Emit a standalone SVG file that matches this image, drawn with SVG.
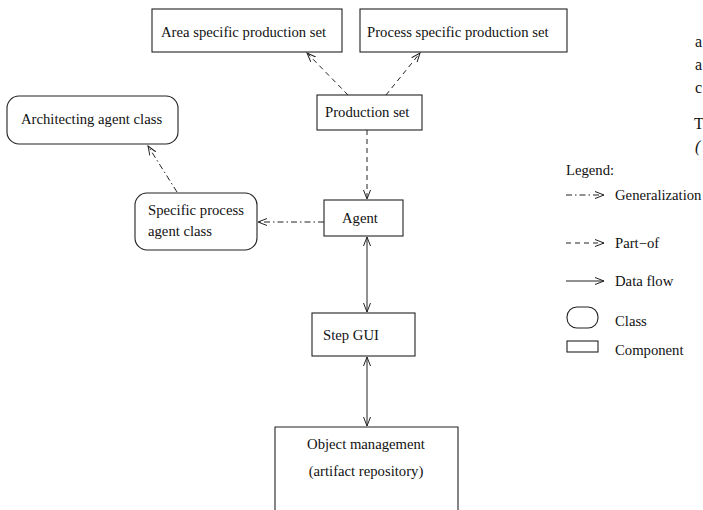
<svg xmlns="http://www.w3.org/2000/svg" width="703" height="510" viewBox="0 0 703 510">
<style>
  text { font-family: "Liberation Serif", "Times New Roman", serif; font-size: 14.7px; fill: #111; }
  .box { fill: #fff; stroke: #222; stroke-width: 1.1; }
  .edge { fill: none; stroke: #222; stroke-width: 1; }
  .partof { stroke-dasharray: 5 4; }
  .gen { stroke-dasharray: 6 3 1.5 3; }
  .page { font-size: 16px; }
</style>
<defs>
  <marker id="ah" viewBox="0 0 10 8" refX="9" refY="4" markerWidth="10" markerHeight="8" markerUnits="userSpaceOnUse" orient="auto-start-reverse">
    <path d="M0,0.5 L9,4 L0,7.5" fill="none" stroke="#222" stroke-width="1"/>
  </marker>
</defs>

<g id="connectors">
  <line class="edge partof" x1="348" y1="95" x2="307" y2="53" marker-end="url(#ah)"/>
  <line class="edge partof" x1="386" y1="95" x2="420" y2="53" marker-end="url(#ah)"/>
  <line class="edge partof" x1="367" y1="130" x2="367" y2="199" marker-end="url(#ah)"/>
  <line class="edge gen" x1="324" y1="222" x2="258" y2="222" marker-end="url(#ah)"/>
  <line class="edge gen" x1="177" y1="192" x2="148" y2="146" marker-end="url(#ah)"/>
  <line class="edge" x1="367" y1="237" x2="367" y2="312" marker-start="url(#ah)" marker-end="url(#ah)"/>
  <line class="edge" x1="367" y1="357" x2="367" y2="426" marker-start="url(#ah)" marker-end="url(#ah)"/>
</g>

<g id="area-set">
  <rect class="box" x="152" y="9" width="190" height="43"/>
  <text x="161" y="37">Area specific production set</text>
</g>
<g id="process-set">
  <rect class="box" x="360" y="9" width="207" height="43"/>
  <text x="367" y="37">Process specific production set</text>
</g>
<g id="production-set">
  <rect class="box" x="317" y="95" width="105" height="35"/>
  <text x="325" y="117">Production set</text>
</g>
<g id="architecting-agent-class">
  <rect class="box" x="7" y="96" width="171" height="48" rx="12"/>
  <text x="21" y="124">Architecting agent class</text>
</g>
<g id="specific-process-agent-class">
  <rect class="box" x="135" y="193" width="122" height="57" rx="12"/>
  <text x="148" y="215">Specific process</text>
  <text x="148" y="236">agent class</text>
</g>
<g id="agent">
  <rect class="box" x="324" y="200" width="79" height="36"/>
  <text x="342" y="223">Agent</text>
</g>
<g id="step-gui">
  <rect class="box" x="312" y="313" width="103" height="43"/>
  <text x="323" y="340">Step GUI</text>
</g>
<g id="object-management">
  <path class="box" d="M275,512 L275,427 L458,427 L458,512"/>
  <text x="366" y="449" text-anchor="middle">Object management</text>
  <text x="366" y="476" text-anchor="middle">(artifact repository)</text>
</g>

<g id="legend">
  <text x="566" y="175">Legend:</text>
  <line class="edge gen" x1="566" y1="195" x2="604" y2="195" marker-end="url(#ah)"/>
  <text x="615" y="200">Generalization</text>
  <line class="edge partof" x1="566" y1="243" x2="604" y2="243" marker-end="url(#ah)"/>
  <text x="615" y="248">Part−of</text>
  <line class="edge" x1="566" y1="281" x2="604" y2="281" marker-end="url(#ah)"/>
  <text x="615" y="286">Data flow</text>
  <rect class="box" x="567" y="307" width="31" height="21" rx="10"/>
  <text x="615" y="326">Class</text>
  <rect class="box" x="567" y="341" width="31" height="11"/>
  <text x="615" y="355">Component</text>
</g>

<g id="page-text">
  <text class="page" x="695" y="47">a</text>
  <text class="page" x="695" y="70">a</text>
  <text class="page" x="695" y="93">c</text>
  <text class="page" x="694" y="129">T</text>
  <text class="page" x="695" y="152" font-style="italic">(</text>
</g>
</svg>
